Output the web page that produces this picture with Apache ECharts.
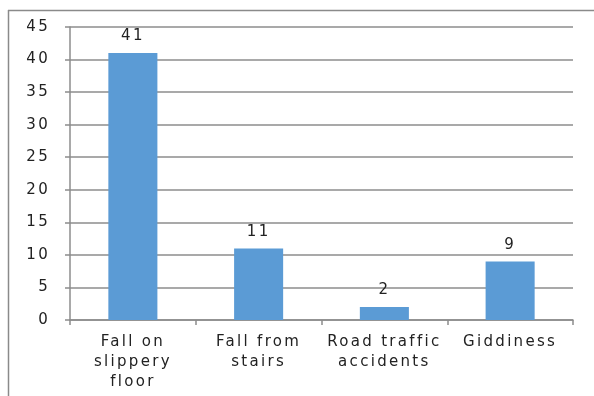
<!DOCTYPE html>
<html>
<head>
<meta charset="utf-8">
<script src="https://cdn.jsdelivr.net/npm/echarts@6/dist/echarts.min.js"></script>
<style>
  html, body { margin: 0; padding: 0; background: #fff; }
  #chart { width: 594px; height: 396px; }
</style>
</head>
<body>
<div id="chart"></div>
<script>
// Causes of injury and number of cases
const categories = ['Fall on\nslippery\nfloor', 'Fall from\nstairs', 'Road traffic\naccidents', 'Giddiness'];
const cases = [41, 11, 2, 9];
const yTicks = { min: 0, max: 45, interval: 5 };

// Loosen the tracking of all canvas text (used both for measuring and drawing).
(function () {
  const proto = CanvasRenderingContext2D.prototype;
  const fontDesc = Object.getOwnPropertyDescriptor(proto, 'font');
  if (fontDesc && 'letterSpacing' in proto) {
    Object.defineProperty(proto, 'font', {
      configurable: true,
      get() { return fontDesc.get.call(this); },
      set(v) { fontDesc.set.call(this, v); this.letterSpacing = '2.3px'; }
    });
  }
})();

const chart = echarts.init(document.getElementById('chart'), null, { renderer: 'canvas' });
const font = '"DejaVu Sans", Verdana, sans-serif';

chart.setOption({
  animation: false,
  backgroundColor: '#fff',
  graphic: [
    { type: 'line', shape: { x1: 8.5, y1: 10, x2: 8.5, y2: 396 }, style: { stroke: '#8a8a8a', lineWidth: 1.5 } },
    { type: 'line', shape: { x1: 8, y1: 10.5, x2: 594, y2: 10.5 }, style: { stroke: '#8a8a8a', lineWidth: 1.5 } }
  ],
  grid: { left: 70, right: 21, top: 27, bottom: 76, containLabel: false },
  xAxis: {
    type: 'category',
    data: categories,
    axisLine: { lineStyle: { color: '#8c8c8c', width: 1.5 } },
    axisTick: { show: true, length: 5, lineStyle: { color: '#8c8c8c', width: 1.5 } },
    axisLabel: { color: '#222', fontSize: 15, fontFamily: font, lineHeight: 20, margin: 12, interval: 0 }
  },
  yAxis: {
    type: 'value',
    min: yTicks.min,
    max: yTicks.max,
    interval: yTicks.interval,
    axisLine: { show: true, lineStyle: { color: '#8c8c8c', width: 1.5 } },
    axisTick: { show: true, length: 5, lineStyle: { color: '#8c8c8c', width: 1.5 } },
    axisLabel: { color: '#222', fontSize: 15, fontFamily: font, margin: 20 },
    splitLine: { show: true, lineStyle: { color: '#8c8c8c', width: 1.5 } }
  },
  series: [{
    type: 'bar',
    data: cases,
    barWidth: '39%',
    itemStyle: { color: '#5b9bd5' },
    label: { show: true, position: 'top', distance: 8, color: '#222', fontSize: 15, fontFamily: font }
  }]
});
</script>
</body>
</html>
